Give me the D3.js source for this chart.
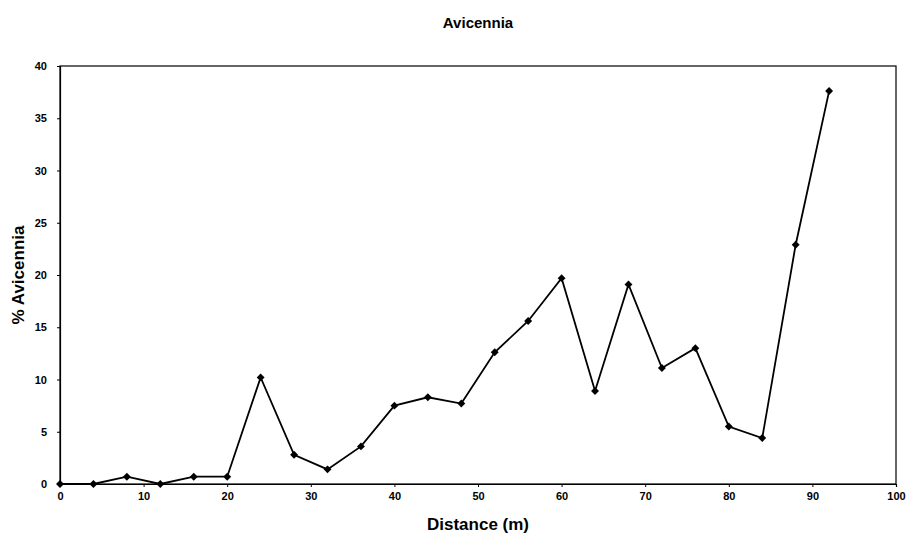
<!DOCTYPE html>
<html>
<head>
<meta charset="utf-8">
<script src="https://cdn.jsdelivr.net/npm/d3@7"></script>
<style>
  body { margin: 0; background: #fff; }
  svg text { font-family: "Liberation Sans", Arial, sans-serif; font-weight: bold; fill: #000; }
</style>
</head>
<body>
<svg id="chart" width="911" height="546"></svg>
<script>
var distance = [0, 4, 8, 12, 16, 20, 24, 28, 32, 36, 40, 44, 48, 52, 56, 60, 64, 68, 72, 76, 80, 84, 88, 92];
var avicennia = [0, 0, 0.7, 0, 0.7, 0.7, 10.2, 2.8, 1.4, 3.6, 7.5, 8.3, 7.7, 12.6, 15.6, 19.7, 8.9, 19.1, 11.1, 13.0, 5.5, 4.4, 22.9, 37.6];
var xTicks = [0, 10, 20, 30, 40, 50, 60, 70, 80, 90, 100];
var yTicks = [0, 5, 10, 15, 20, 25, 30, 35, 40];

var svg = d3.select('#chart');
// plot area box (window.top is reserved, so use other names)
var plotLeft = 60, plotRight = 896, plotTop = 66, plotBottom = 484;

var xScale = d3.scaleLinear().domain([0, 100]).range([plotLeft, plotRight]);
var yScale = d3.scaleLinear().domain([0, 40]).range([plotBottom, plotTop]);

// plot frame
svg.append('rect')
    .attr('x', plotLeft).attr('y', plotTop)
    .attr('width', plotRight - plotLeft).attr('height', plotBottom - plotTop)
    .attr('fill', 'none').attr('stroke', '#000').attr('stroke-width', 1.2);

var xAxis = d3.axisBottom(xScale).tickValues(xTicks).tickSize(3).tickPadding(5);
var yAxis = d3.axisLeft(yScale).tickValues(yTicks).tickSize(3).tickPadding(10);

var gx = svg.append('g').attr('transform', 'translate(0,' + plotBottom + ')').call(xAxis);
var gy = svg.append('g').attr('transform', 'translate(' + plotLeft + ',0)').call(yAxis);
[gx, gy].forEach(function(g) {
    g.select('.domain').attr('stroke', '#000').attr('stroke-width', 1.2);
    g.selectAll('line').attr('stroke', '#000');
    g.selectAll('text').style('font-size', '11px').style('font-weight', 'bold').attr('fill', '#000');
});

var line = d3.line()
    .x(function(d, i) { return xScale(distance[i]); })
    .y(function(d) { return yScale(d); });

svg.append('path')
    .datum(avicennia)
    .attr('d', line)
    .attr('fill', 'none')
    .attr('stroke', '#000')
    .attr('stroke-width', 1.8);

svg.append('g').selectAll('path').data(avicennia).enter().append('path')
    .attr('d', d3.symbol().type(d3.symbolDiamond2).size(40))
    .attr('transform', function(d, i) { return 'translate(' + xScale(distance[i]) + ',' + yScale(d) + ')'; })
    .attr('fill', '#000');

svg.append('text')
    .attr('x', 478).attr('y', 28)
    .attr('text-anchor', 'middle')
    .style('font-size', '15px')
    .text('Avicennia');

svg.append('text')
    .attr('x', 478).attr('y', 530)
    .attr('text-anchor', 'middle')
    .style('font-size', '17px')
    .text('Distance (m)');

svg.append('text')
    .attr('transform', 'translate(24,' + ((plotTop + plotBottom) / 2) + ') rotate(-90)')
    .attr('text-anchor', 'middle')
    .style('font-size', '17px')
    .text('% Avicennia');
</script>
</body>
</html>
